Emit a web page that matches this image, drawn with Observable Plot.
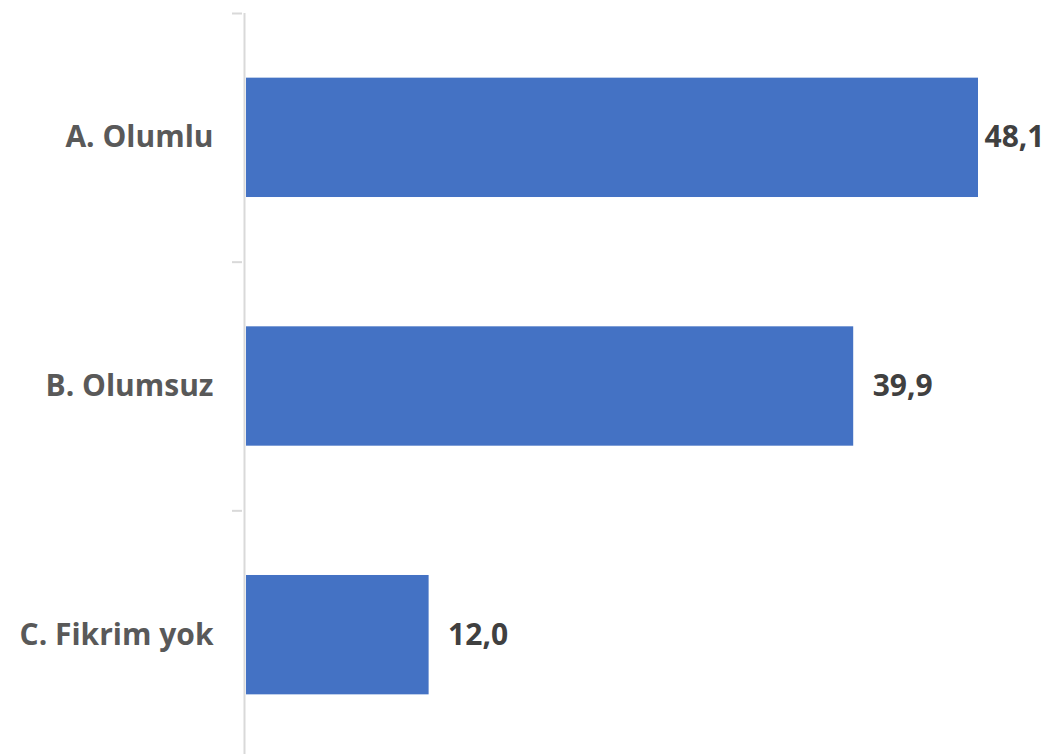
<!DOCTYPE html>
<html>
<head>
<meta charset="utf-8">
<script src="https://cdn.jsdelivr.net/npm/d3@7"></script>
<script src="https://cdn.jsdelivr.net/npm/@observablehq/plot@0.6"></script>
<style>
  html, body { margin: 0; padding: 0; background: #fff; }
  #chart svg { display: block; }
</style>
</head>
<body>
<div id="chart"></div>
<script>
const categories = ["A. Olumlu", "B. Olumsuz", "C. Fikrim yok"];
const values = [48.1, 39.9, 12.0];
const valueLabels = ["48,1", "39,9", "12,0"];

const data = categories.map((c, i) => ({category: c, index: i, value: values[i], label: valueLabels[i]}));
const half = 0.24;
const font = "'Open Sans', sans-serif";

const chart = Plot.plot({
  width: 1048,
  height: 754,
  marginLeft: 243,
  marginRight: 0,
  marginTop: 13,
  marginBottom: -5,
  style: {fontFamily: font, background: "#fff"},
  x: {domain: [0, 52.7], insetLeft: 3, axis: null},
  y: {domain: [-0.5, 2.5], reverse: true, axis: null, label: null},
  marks: [
    Plot.ruleX([0], {y1: -0.5, y2: 2.5, dx: -2, stroke: "#d9d9d9", strokeWidth: 2}),
    Plot.axisY([-0.5, 0.5, 1.5, 2.5], {tickSize: 10, tickFormat: () => "", label: null, stroke: "#d9d9d9", strokeWidth: 2, dx: -1}),
    Plot.rectX(data, {x1: 0, x2: "value", y1: d => d.index - half, y2: d => d.index + half, fill: "#4472C4"}),
    Plot.text(data, {x: 0, y: "index", text: "category", textAnchor: "end", dx: -33, fontSize: 30, fontWeight: "bold", fill: "#595959"}),
    Plot.text(data.filter(d => d.value <= 45), {x: "value", y: "index", text: "label", textAnchor: "start", dx: 19, fontSize: 30, fontWeight: "bold", fill: "#404040"}),
    Plot.text(data.filter(d => d.value > 45), {y: "index", text: "label", frameAnchor: "right", textAnchor: "end", dx: -4, fontSize: 30, fontWeight: "bold", fill: "#404040"})
  ]
});
document.getElementById("chart").appendChild(chart);
</script>
</body>
</html>
